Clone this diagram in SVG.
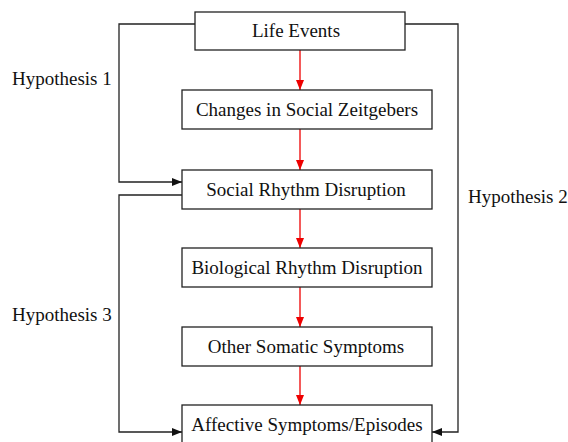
<svg xmlns="http://www.w3.org/2000/svg" width="568" height="442" viewBox="0 0 568 442">
<style>
.box{fill:#fff;stroke:#222;stroke-width:1.3}
.t{font-family:"Liberation Serif",serif;font-size:19px;fill:#111}
.c{text-anchor:middle}
.red{stroke:#e00;stroke-width:1.3;fill:none}
.blk{stroke:#222;stroke-width:1.3;fill:none}
</style>
<defs>
<marker id="ar" markerUnits="userSpaceOnUse" markerWidth="10" markerHeight="10" viewBox="0 0 10 10" refX="10" refY="5" orient="auto"><path d="M0,1 L10,5 L0,9 Z" fill="#e00"/></marker>
<marker id="ab" markerUnits="userSpaceOnUse" markerWidth="10" markerHeight="10" viewBox="0 0 10 10" refX="10" refY="5" orient="auto"><path d="M0,1 L10,5 L0,9 Z" fill="#111"/></marker>
</defs>
<rect width="568" height="442" fill="#fff"/>
<g id="connectors">
<path class="red" d="M300,50 V90" marker-end="url(#ar)"/>
<path class="red" d="M300,129 V170" marker-end="url(#ar)"/>
<path class="red" d="M300,209 V248" marker-end="url(#ar)"/>
<path class="red" d="M300,287 V327" marker-end="url(#ar)"/>
<path class="red" d="M300,366 V405" marker-end="url(#ar)"/>
<path class="blk" d="M195,24 H119 V182 H182" marker-end="url(#ab)"/>
<path class="blk" d="M405,24 H458 V432 H432" marker-end="url(#ab)"/>
<path class="blk" d="M182,195 H119 V432 H182" marker-end="url(#ab)"/>
</g>
<g id="life-events"><rect class="box" x="195" y="12" width="210" height="38"/><text class="t c" x="296" y="37">Life Events</text></g>
<g id="changes"><rect class="box" x="182" y="90" width="250" height="39"/><text class="t c" x="307" y="116">Changes in Social Zeitgebers</text></g>
<g id="social"><rect class="box" x="182" y="170" width="250" height="39"/><text class="t c" x="306" y="196">Social Rhythm Disruption</text></g>
<g id="bio"><rect class="box" x="182" y="248" width="250" height="39"/><text class="t c" x="307" y="274">Biological Rhythm Disruption</text></g>
<g id="somatic"><rect class="box" x="182" y="327" width="250" height="39"/><text class="t c" x="306" y="353">Other Somatic Symptoms</text></g>
<g id="affective"><rect class="box" x="182" y="405" width="250" height="40"/><text class="t c" x="307" y="431">Affective Symptoms/Episodes</text></g>
<g id="labels">
<text class="t" x="12" y="85">Hypothesis 1</text>
<text class="t" x="468" y="203">Hypothesis 2</text>
<text class="t" x="12" y="321">Hypothesis 3</text>
</g>
</svg>
